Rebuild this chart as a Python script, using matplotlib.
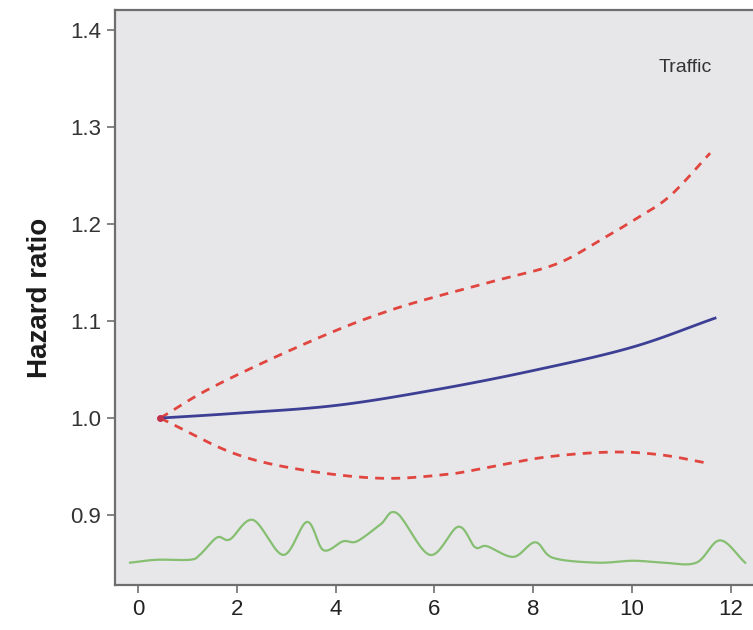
import matplotlib
matplotlib.use("Agg")
from matplotlib import pyplot as plt
import numpy as np

plt.rcParams['font.family'] = ['Liberation Sans Narrow', 'Liberation Sans', 'DejaVu Sans']

# hazard ratio estimate (solid) and confidence bounds (dashed)
hr_x = [0.45, 2.0, 4.0, 6.0, 8.0, 10.0, 11.68]
hr_y = [1.0, 1.005, 1.013, 1.029, 1.049, 1.073, 1.103]

upper_x = [0.45, 1.4, 2.74, 4.09, 5.1, 5.95, 7.27, 8.48, 9.41, 10.1, 10.77, 11.58]
upper_y = [1.0, 1.029, 1.062, 1.092, 1.111, 1.124, 1.142, 1.159, 1.185, 1.206, 1.229, 1.273]

lower_x = [0.45, 1.92, 3.28, 4.9, 6.25, 7.06, 8.28, 9.6, 10.6, 11.58]
lower_y = [1.0, 0.964, 0.947, 0.938, 0.942, 0.949, 0.960, 0.965, 0.962, 0.953]

# exposure density trace at the bottom
dens_x = [-0.16, 0.38, 1.05, 1.25, 1.6, 1.86, 2.33, 2.94, 3.42, 3.75, 4.15, 4.43, 4.9,
          5.24, 5.91, 6.48, 6.82, 7.06, 7.6, 8.04, 8.4, 9.29, 10.02, 10.63, 11.3, 11.78, 12.29]
dens_y = [0.851, 0.854, 0.854, 0.859, 0.877, 0.875, 0.895, 0.859, 0.893, 0.864, 0.873, 0.873, 0.89,
          0.902, 0.859, 0.888, 0.867, 0.868, 0.857, 0.872, 0.856, 0.851, 0.853, 0.851, 0.851, 0.874, 0.851]

x_ticks = [0, 2, 4, 6, 8, 10, 12]
y_ticks = [0.9, 1.0, 1.1, 1.2, 1.3, 1.4]


def smooth(xs, ys, n=20):
    # Catmull-Rom curve through the read points
    xs = np.asarray(xs, float)
    ys = np.asarray(ys, float)
    out_x, out_y = [], []
    px = np.concatenate([[2 * xs[0] - xs[1]], xs, [2 * xs[-1] - xs[-2]]])
    py = np.concatenate([[2 * ys[0] - ys[1]], ys, [2 * ys[-1] - ys[-2]]])
    for i in range(1, len(px) - 2):
        for s in np.linspace(0, 1, n, endpoint=False):
            s2, s3 = s * s, s * s * s
            for arr, res in ((px, out_x), (py, out_y)):
                p0, p1, p2, p3 = arr[i - 1], arr[i], arr[i + 1], arr[i + 2]
                res.append(0.5 * (2 * p1 + (-p0 + p2) * s + (2 * p0 - 5 * p1 + 4 * p2 - p3) * s2
                                  + (-p0 + 3 * p1 - 3 * p2 + p3) * s3))
    out_x.append(xs[-1])
    out_y.append(ys[-1])
    return np.array(out_x), np.array(out_y)


fig = plt.figure(figsize=(7.53, 6.3), dpi=100)
ax = fig.add_axes([115 / 753, 45 / 630, 645 / 753, 575 / 630])
ax.set_facecolor('#e7e7e9')

x, y = smooth(dens_x, dens_y)
ax.plot(x, y, color='#86bf72', lw=1.6)
x, y = smooth(upper_x, upper_y)
ax.plot(x, y, color='#e0463f', lw=2.0, dashes=(3.2, 2.6))
x, y = smooth(lower_x, lower_y)
ax.plot(x, y, color='#e0463f', lw=2.0, dashes=(3.2, 2.6))
x, y = smooth(hr_x, hr_y)
ax.plot(x, y, color='#3d3f95', lw=2.0)
ax.plot([hr_x[0]], [hr_y[0]], 'o', color='#c0304a', ms=4)

ax.set_xlim(-0.466, 12.59)
ax.set_ylim(0.828, 1.4205)
ax.set_xticks(x_ticks)
ax.set_yticks(y_ticks)
ax.set_xticklabels([str(v) for v in x_ticks], fontsize=16, color='#222222')
ax.set_yticklabels([f'{v:.1f}' for v in y_ticks], fontsize=16, color='#333333')
ax.tick_params(direction='out', length=6, width=1.2, color='#707070', pad=4)

for side in ('left', 'bottom', 'top'):
    ax.spines[side].set_color('#6e6e6e')
    ax.spines[side].set_linewidth(1.6)
ax.spines['right'].set_visible(False)

ax.set_ylabel('Hazard ratio', fontsize=20, fontweight='bold', color='#1a1a1a', labelpad=12)
ax.text(712, 630 - 67, 'Traffic', transform=None, fontsize=14, color='#333333',
        ha='right', va='center')

plt.savefig('out.png', dpi=100)
